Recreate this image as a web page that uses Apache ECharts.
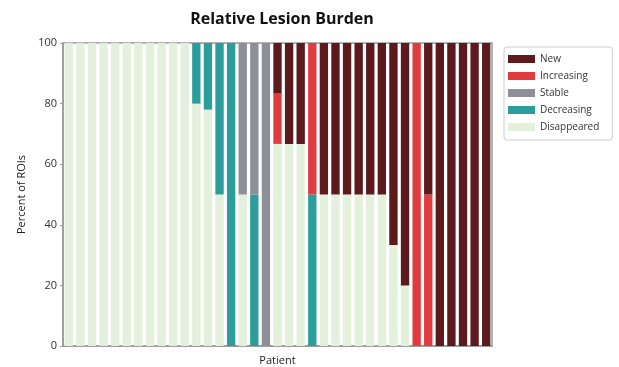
<!DOCTYPE html>
<html><head><meta charset="utf-8">
<script src="https://cdn.jsdelivr.net/npm/echarts@6/dist/echarts.min.js"></script>
<style>html,body{margin:0;padding:0;background:#fff}#c{width:619px;height:367px}</style>
</head><body><div id="c"></div>
<script>
const patients = Array.from({length: 37}, (_, i) => 'P' + (i + 1));
const seriesNames = ['Disappeared', 'Decreasing', 'Stable', 'Increasing', 'New'];
const legendOrder = ['New', 'Increasing', 'Stable', 'Decreasing', 'Disappeared'];
const yTicks = [0, 20, 40, 60, 80, 100];
const disappeared = [100,100,100,100,100,100,100,100,100,100,100,80,78,50,0,50,0,0,66.7,66.7,66.7,0,50,50,50,50,50,50,33.3,20,0,0,0,0,0,0,0];
const decreasing  = [0,0,0,0,0,0,0,0,0,0,0,20,22,50,100,0,50,0,0,0,0,50,0,0,0,0,0,0,0,0,0,0,0,0,0,0,0];
const stable      = [0,0,0,0,0,0,0,0,0,0,0,0,0,0,0,50,50,100,0,0,0,0,0,0,0,0,0,0,0,0,0,0,0,0,0,0,0];
const increasing  = [0,0,0,0,0,0,0,0,0,0,0,0,0,0,0,0,0,0,16.6,0,0,50,0,0,0,0,0,0,0,0,100,50,0,0,0,0,0];
const newLes      = [0,0,0,0,0,0,0,0,0,0,0,0,0,0,0,0,0,0,16.7,33.3,33.3,0,50,50,50,50,50,50,66.7,80,0,50,100,100,100,100,100];
const values = [disappeared, decreasing, stable, increasing, newLes];
const colors = ['#e3f0dc', '#2b9e9b', '#8f8f97', '#e03c40', '#5d1a1c'];

const chart = echarts.init(document.getElementById('c'));
const font = '"Open Sans", sans-serif';
chart.setOption({
  animation: false,
  title: { text: 'Relative Lesion Burden', left: 277, textAlign: 'center', top: 6,
    textStyle: { fontFamily: font, fontWeight: 'bold', fontSize: 16, color: '#111' } },
  grid: { left: 63, right: 127, top: 43, bottom: 21, outerBoundsMode: 'none', containLabel: false,
    show: true, borderColor: '#999', borderWidth: 1.5, backgroundColor: 'transparent' },
  legend: {
    data: legendOrder, orient: 'vertical', left: 504, top: 47,
    borderColor: '#ccc', borderWidth: 1, borderRadius: 3, padding: [7, 13, 8, 4],
    icon: 'rect', itemWidth: 27, itemHeight: 8, itemGap: 7,
    textStyle: { fontFamily: font, fontSize: 10, color: '#333' }
  },
  xAxis: {
    type: 'category', data: patients, name: 'Patient', nameLocation: 'middle', nameGap: 9,
    nameTextStyle: { fontFamily: font, fontSize: 11, color: '#222' },
    axisLabel: { show: false }, axisTick: { show: false },
    axisLine: { lineStyle: { color: '#999', width: 1.5 } }
  },
  yAxis: {
    type: 'value', min: 0, max: 100, interval: 20, name: 'Percent of ROIs', nameLocation: 'middle', nameGap: 35,
    nameTextStyle: { fontFamily: font, fontSize: 11, color: '#222' },
    axisLabel: { fontFamily: font, fontSize: 11, color: '#333', margin: 6,
      formatter: v => yTicks.includes(v) ? String(v) : '' },
    axisTick: { show: true, length: 3, lineStyle: { color: '#999' } },
    axisLine: { show: true, lineStyle: { color: '#999', width: 1.5 } },
    splitLine: { show: false }
  },
  series: seriesNames.map((n, i) => ({
    name: n, type: 'bar', stack: 'all', data: values[i], barCategoryGap: '28%',
    itemStyle: { color: colors[i] }
  }))
});
</script></body></html>
